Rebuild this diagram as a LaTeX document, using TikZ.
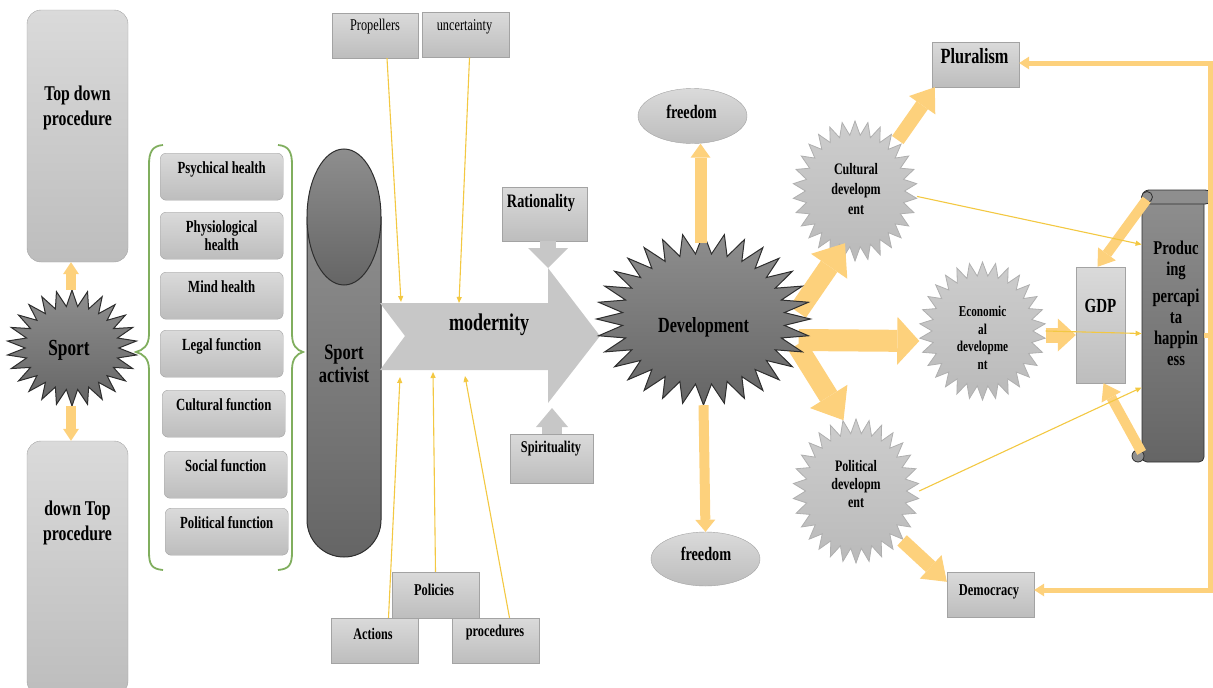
\documentclass[tikz,border=0pt]{standalone}
\usepackage{fontspec}
\setmainfont{Liberation Serif}[FakeStretch=0.75]
\usetikzlibrary{arrows.meta, positioning, shapes, calc}

\definecolor{boxtop}{HTML}{DADADA}
\definecolor{boxbot}{HTML}{BDBDBD}
\definecolor{boxline}{HTML}{A3A3A3}
\definecolor{darktop}{HTML}{8E8E8E}
\definecolor{darkbot}{HTML}{656565}
\definecolor{darkline}{HTML}{2E2E2E}
\definecolor{litetop}{HTML}{CDCDCD}
\definecolor{litebot}{HTML}{BABABA}
\definecolor{liteline}{HTML}{AFAFAF}
\definecolor{fatyel}{HTML}{FDD17C}
\definecolor{thinyel}{HTML}{F3C842}
\definecolor{bracegreen}{HTML}{80AE5E}
\definecolor{chevgray}{HTML}{C7C7C7}

\newcommand{\fsz}[2]{\fontsize{#1}{#2}\selectfont}
% spiky burst: style, centre x, centre y, x radius, y radius, points, inner ratio
\newcommand{\burst}[7]{%
  \draw[#1] ({#2},{#3-#5}) \foreach \k in {1,...,#6}{
    -- ({#2+#7*#4*cos(90+(\k-0.5)*360/#6)},{#3-#7*#5*sin(90+(\k-0.5)*360/#6)})
    -- ({#2+#4*cos(90+\k*360/#6)},{#3-#5*sin(90+\k*360/#6)})} -- cycle;}

\tikzset{
  box_base/.style = {draw=boxline, top color=boxtop, bottom color=boxbot,
    inner sep=0pt},
  proc_box/.style = {box_base, rounded corners=14pt, minimum width=101pt},% procedure column
  fn_box/.style = {box_base, rounded corners=6pt, minimum width=123pt,
    minimum height=47pt},% function box
  sq_box/.style = {box_base, minimum width=87pt, minimum height=45pt},% plain box
  free_oval/.style = {ellipse, box_base, minimum width=109pt,
    minimum height=55pt},% freedom
  lbl/.style 2 args = {inner sep=0pt, align=center, font=\bfseries\fsz{#1}{#2}},
  reg_lbl/.style = {inner sep=0pt, font=\fsz{16.4}{18}},% not bold
  dark_burst/.style = {draw=darkline, line width=1pt, top color=darktop,
    bottom color=darkbot},
  lite_burst/.style = {draw=liteline, line width=0.8pt, top color=litetop,
    bottom color=litebot},
  burst_node/.style = {ellipse, inner sep=0pt},
  scroll_body/.style = {draw=darkline, line width=0.8pt, top color=darktop,
    bottom color=darkbot, rounded corners=5pt, minimum width=62pt,
    minimum height=265pt},
  scroll_roll/.style = {draw=darkline, line width=0.8pt, fill=darktop},
  fat_arr/.style n args = {3}{draw=fatyel, line width=#1,
    -{Triangle[width=#2, length=#3, line width=0pt]}},% thick arrow
  gray_arr/.style n args = {3}{draw=chevgray, line width=#1,
    -{Triangle[width=#2, length=#3, line width=0pt]}},
  thin_arr/.style = {draw=thinyel, line width=1.1pt,
    -{Triangle[width=5pt, length=6pt]}},
  loop_line/.style = {draw=fatyel, line width=5pt},
  brace_line/.style = {draw=bracegreen, line width=1.8pt}
}

\begin{document}
\begin{tikzpicture}[x=1pt, y=-1pt]
\useasboundingbox (0,0) rectangle (1213,688);

% procedure columns
\node[proc_box, minimum height=252pt] (topdown) at (77.5,136) {};
\node[lbl={21}{25}, anchor=north] (topdown_t) at (77.5,86) {Top down\\procedure};
\node[proc_box, minimum height=254pt] (downtop) at (77.5,568) {};
\node[lbl={21}{25}, anchor=north] (downtop_t) at (77.5,501) {down Top\\procedure};

% sport
\burst{dark_burst}{72}{348}{65}{58}{26}{0.72}
\node[burst_node, minimum width=130pt, minimum height=116pt] (sport) at (71,348) {};
\node[lbl={23}{26}, anchor=base] (sport_t) at (69,355) {Sport};
\draw[fat_arr={10pt}{16pt}{12pt}] (sport.north) -- (sport.north |- topdown.south);
\draw[fat_arr={10pt}{16pt}{12pt}] (sport.south) -- (sport.south |- downtop.north);

% braces
\draw[brace_line] (163,145) .. controls (152,146) and (149,152) .. (149,165)
  -- (149,334) .. controls (149,346) and (143,350) .. (136,352)
  .. controls (143,354) and (149,358) .. (149,370) -- (149,552)
  .. controls (149,565) and (152,569) .. (163,570);
\draw[brace_line] (278,145) .. controls (289,146) and (292,152) .. (292,165)
  -- (292,334) .. controls (292,346) and (297,350) .. (303,352)
  .. controls (297,354) and (292,358) .. (292,370) -- (292,552)
  .. controls (292,565) and (289,569) .. (278,570);

% functions
\foreach \nm/\x/\y/\txt in {psych/160/153/{Psychical health},
    physio/160/212/{Physiological\\health}, mind/160/272/{Mind health},
    legal/160/330/{Legal function}, cultf/162/390/{Cultural function},
    social/164/451/{Social function}, polit/165/508/{Political function}}{
  \node[fn_box, anchor=north west] (\nm) at (\x,\y) {};
  \node[lbl={17}{18.5}, anchor=north] (\nm_t) at ([yshift=-8.5pt]\nm.north) {\txt};
}

% sport activist
\draw[dark_burst] (307,217) -- (307,520)
  arc[start angle=180, end angle=0, x radius=37, y radius=37] -- (381,217) -- cycle;
\draw[dark_burst] (344,217) ellipse [x radius=37, y radius=68];
\node[lbl={22}{23}, anchor=north] (activist) at (344,345) {Sport\\activist};

% modernity
\fill[chevgray] (380,303) -- (548,303) -- (548,268) -- (600,336) -- (548,403)
  -- (548,370) -- (380,370) -- (405,336) -- cycle;
\node[lbl={24}{26}, anchor=base] (modern) at (489,330) {modernity};
\coordinate (m_in1) at (401,302);
\coordinate (m_in2) at (459,303);
\coordinate (m_out1) at (400,377);
\coordinate (m_out2) at (433,372);
\coordinate (m_out3) at (465,376);
\coordinate (m_rat) at (548,268);
\coordinate (m_spi) at (552,408);

% top and bottom boxes
\node[sq_box, minimum width=86pt] (propel) at (375,35.5) {};
\node[reg_lbl, anchor=base] (propel_t) at (375,30) {Propellers};
\node[sq_box] (uncert) at (465.5,35) {};
\node[reg_lbl, anchor=base] (uncert_t) at (464.5,30) {uncertainty};
\draw[thin_arr] ([xshift=12pt]propel.south) -- (m_in1);
\draw[thin_arr] ([xshift=4pt]uncert.south) -- (m_in2);

\node[sq_box, minimum height=46pt] (polic) at (435.5,595) {};
\node[lbl={16.5}{18}, anchor=base] (polic_t) at (434,595) {Policies};
\node[sq_box] (action) at (374.5,640.5) {};
\node[lbl={16.2}{18}, anchor=base] (action_t) at (373,639) {Actions};
\node[sq_box] (proced) at (495.5,640.5) {};
\node[lbl={16.4}{18}, anchor=base] (proced_t) at (495,636) {procedures};
\draw[thin_arr] ([xshift=14pt]action.north) -- (m_out1);
\draw[thin_arr] (polic.north) -- (m_out2);
\draw[thin_arr] ([xshift=14pt]proced.north) -- (m_out3);

\node[sq_box, minimum width=85pt, minimum height=54pt] (ration) at (544.5,214) {};
\node[lbl={19}{21}, anchor=base] (ration_t) at (541,207) {Rationality};
\draw[gray_arr={16pt}{40pt}{20pt}] (m_rat |- ration.south) -- (m_rat);
\node[sq_box, minimum width=83pt, minimum height=49pt] (spirit) at (551.5,458.5) {};
\node[lbl={16.4}{18}, anchor=base] (spirit_t) at (551,452) {Spirituality};
\draw[gray_arr={20pt}{32pt}{19pt}] (m_spi |- spirit.north) -- (m_spi);

% light bursts
\burst{lite_burst}{855}{191}{62}{70}{30}{0.8}
\node[burst_node, minimum width=124pt, minimum height=140pt] (cult) at (855,191) {};
\node[lbl={16}{20}, anchor=north] (cult_t) at (856,163) {Cultural\\developm\\ent};
\burst{lite_burst}{982.5}{331}{63}{69}{30}{0.8}
\node[burst_node, minimum width=126pt, minimum height=138pt] (econ) at (982.5,331) {};
\node[lbl={15}{17.5}, anchor=north] (econ_t) at (982.5,306) {Economic\\al\\developme\\nt};
\burst{lite_burst}{856}{491}{63}{72}{30}{0.8}
\node[burst_node, minimum width=126pt, minimum height=144pt] (pol) at (856,491) {};
\node[lbl={16}{18}, anchor=north] (pol_t) at (856,460) {Political\\developm\\ent};

% development
\node[burst_node, minimum width=214pt, minimum height=172pt] (dev) at (703.5,319) {};
\draw[fat_arr={20pt}{44pt}{28pt}] ([shift={(-13pt,7pt)}]dev.east) -- ([shift={(-10pt,18pt)}]cult.south);
\draw[fat_arr={22pt}{48pt}{22pt}] ([shift={(-12pt,-21pt)}]dev.east) -- ([yshift=-10pt]econ.west);
\draw[fat_arr={20pt}{44pt}{28pt}] ([shift={(-14pt,-26pt)}]dev.east) -- (pol.100);
\burst{dark_burst}{703.5}{319}{107}{86}{32}{0.76}
\node[lbl={21.6}{24}, anchor=base] (dev_t) at (703.5,332) {Development};

\node[free_oval] (free_up) at (692.5,116) {};
\node[lbl={19}{21}, anchor=base] (free_up_t) at (691.5,118) {freedom};
\node[free_oval, minimum height=54pt] (free_dn) at (705.5,559) {};
\node[lbl={19}{21}, anchor=base] (free_dn_t) at (706,560) {freedom};
\draw[fat_arr={12pt}{20pt}{14pt}] ([shift={(-3pt,-10pt)}]dev.north) -- ([xshift=8pt]free_up.south);
\draw[fat_arr={10pt}{20pt}{12pt}] (dev.south) -- (free_dn.north);

% right part
\node[sq_box] (plural) at (975.5,64.5) {};
\node[lbl={21.7}{24}, anchor=base] (plural_t) at (974.5,63) {Pluralism};
\node[sq_box] (democ) at (990.5,594.5) {};
\node[lbl={16.6}{18}, anchor=base] (democ_t) at (989,595) {Democracy};
\draw[fat_arr={14pt}{32pt}{22pt}] (cult.50) -- ([xshift=3pt]plural.south west);
\draw[fat_arr={14pt}{32pt}{22pt}] (pol.-47) -- ([yshift=-10pt]democ.north west);

\node[box_base, minimum width=49pt, minimum height=116pt] (gdp) at (1100.5,325) {};
\node[lbl={20}{22}, anchor=base] (gdp_t) at (1100.5,312) {GDP};
\draw[fat_arr={15pt}{33pt}{18pt}] ([yshift=-4pt]econ.east) -- ([yshift=-10pt]gdp.west);

% scroll
\node[scroll_body] (scroll) at (1173,329.5) {};
\draw[scroll_roll, rounded corners=7pt] (1142,190) rectangle (1212,204);
\draw[scroll_roll] (1147,197) circle[radius=5.5];
\draw[scroll_roll] (1138,456) circle[radius=6];
\node[lbl={19.5}{21}, anchor=north] (scroll_t) at (1176,241)
  {Produc\\ing\\[6pt]percapi\\ta\\happin\\ess};
\draw[fat_arr={10pt}{22pt}{16pt}] ([shift={(5pt,-3pt)}]scroll.north west) -- ([xshift=-3pt]gdp.north);
\draw[fat_arr={10pt}{22pt}{16pt}] ([yshift=10pt]scroll.south west) -- ([xshift=3pt]gdp.south);

\draw[thin_arr] (cult.-5) -- ([yshift=85pt]scroll.west);
\draw[thin_arr] (econ.east) -- ([yshift=-4pt]scroll.west);
\draw[thin_arr] (pol.east) -- ([yshift=-58pt]scroll.west);

% feedback loop
\coordinate (loop_top) at (1210,63);
\coordinate (loop_mid) at (1210,335);
\coordinate (loop_bot) at (1210,590);
\draw[loop_line, {Triangle[width=13pt, length=10pt, line width=0pt]}-{Triangle[width=13pt, length=10pt, line width=0pt]}]
  (plural.east |- loop_top) -- (loop_top) -- (loop_bot) -- (democ.east |- loop_bot);
\draw[loop_line] (loop_mid -| scroll.east) -- (loop_mid);
\end{tikzpicture}
\end{document}
